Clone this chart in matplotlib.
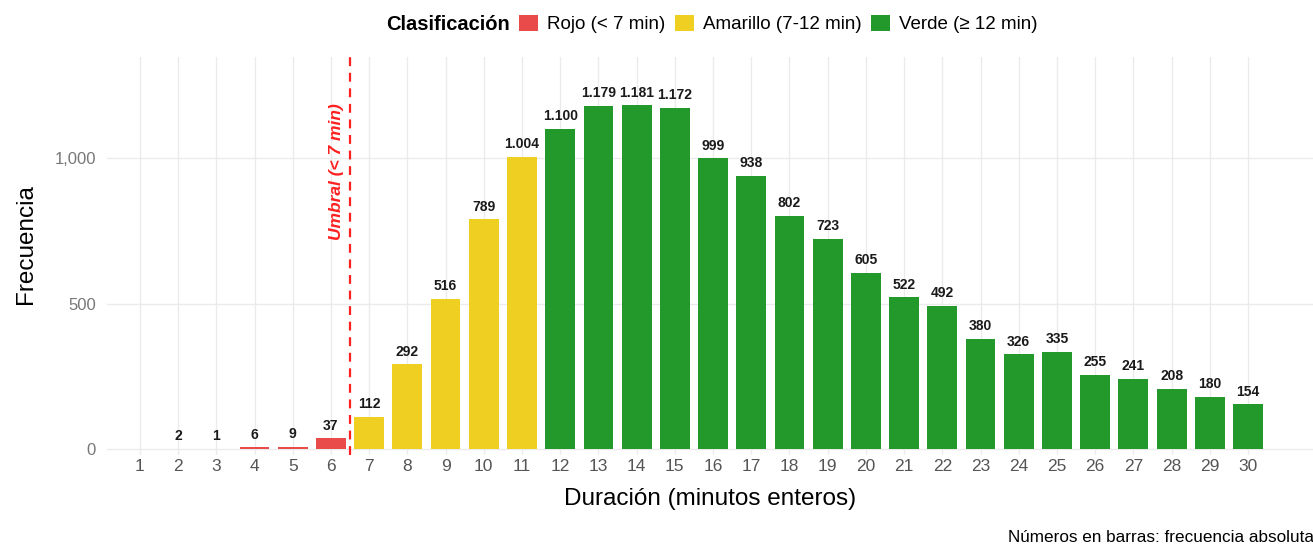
import matplotlib.pyplot as plt
from matplotlib.patches import Patch

# datos: minutos enteros y frecuencia absoluta
minutos = list(range(1, 31))
frecuencia = [0, 2, 1, 6, 9, 37, 112, 292, 516, 789, 1004, 1100, 1179, 1181, 1172,
              999, 938, 802, 723, 605, 522, 492, 380, 326, 335, 255, 241, 208, 180, 154]
clases = ['Rojo (< 7 min)', 'Amarillo (7-12 min)', 'Verde (\u2265 12 min)']
colores = ['#E94A4A', '#EECF22', '#22992A']
umbral = 6.5

plt.rcParams['font.family'] = ['Liberation Sans', 'DejaVu Sans']

def color_de(m):
    if m < 7:
        return colores[0]
    if m < 12:
        return colores[1]
    return colores[2]

fig = plt.figure(figsize=(13.13, 5.46), dpi=100)
ax = fig.add_axes([0.0815, 0.1667, 0.9185, 0.729])

bar_colors = [color_de(m) for m in minutos]
ax.bar(minutos, frecuencia, width=0.78, color=bar_colors, zorder=2)

for m, f in zip(minutos, frecuencia):
    if f > 0:
        etiqueta = f'{f:,}'.replace(',', '.')
        ax.annotate(etiqueta, (m, f), xytext=(0, 4), textcoords='offset points',
                    ha='center', va='bottom', fontsize=10, fontweight='bold', color='#1a1a1a')

ax.axvline(umbral, color='#FF2020', linestyle=(0, (4, 3)), linewidth=1.6, zorder=3)
ax.text(6.15, 952, 'Umbral (< 7 min)', rotation=90, color='#FF2020', fontsize=12.5,
        fontweight='bold', fontstyle='italic', ha='center', va='center')

ax.set_xlim(0.14, 31.7)
ax.set_ylim(-20, 1347)
ax.set_xticks(minutos)
ax.set_xticklabels([str(m) for m in minutos])
ax.set_yticks([0, 500, 1000])
ax.set_yticklabels(['0', '500', '1,000'])
ax.tick_params(axis='x', length=0, labelsize=12.5, labelcolor='#555555', pad=3)
ax.tick_params(axis='y', length=0, labelsize=12, labelcolor='#777777', pad=8)
ax.grid(True, color='#EBEBEB', linewidth=1.0, zorder=0)
ax.set_axisbelow(True)
for s in ax.spines.values():
    s.set_visible(False)

ax.set_xlabel('Duración (minutos enteros)', fontsize=17.5, labelpad=10)
ax.set_ylabel('Frecuencia', fontsize=17.5)
ax.yaxis.set_label_coords(-0.058, 0.53)

# leyenda arriba
fig.text(510 / 1313, 1 - 24 / 546, 'Clasificación', ha='right', va='center',
         fontsize=14.5, fontweight='bold')
handles = [Patch(facecolor=c, edgecolor='none', label=l) for c, l in zip(colores, clases)]
fig.legend(handles=handles, loc='center left', bbox_to_anchor=(519 / 1313, 1 - 24 / 546),
           ncol=3, frameon=False, fontsize=13.5, handlelength=1.0, handleheight=1.0,
           handletextpad=0.5, columnspacing=0.5, borderaxespad=0, borderpad=0)

fig.text(1008 / 1313, 1 - 538 / 546, 'Números en barras: frecuencia absoluta',
         ha='left', va='center', fontsize=12.3)

fig.savefig('out.png', dpi=100)
